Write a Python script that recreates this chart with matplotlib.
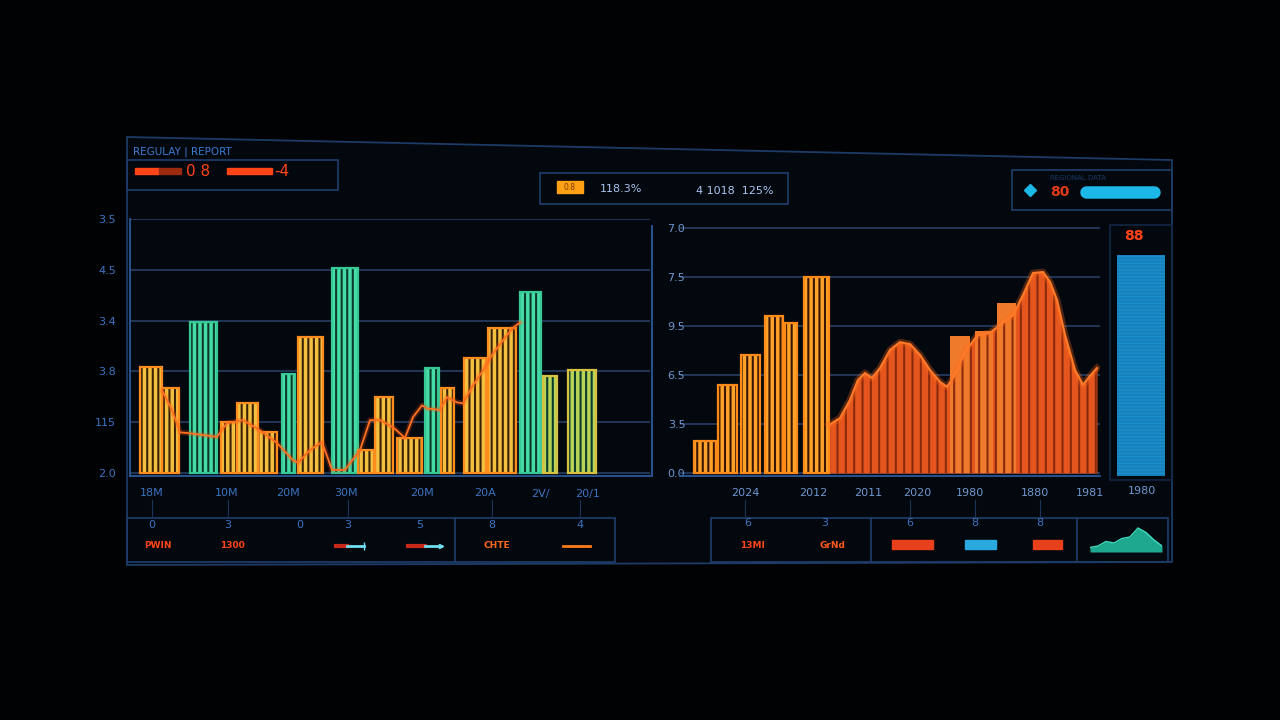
import numpy as np
import matplotlib
matplotlib.use("Agg")
import matplotlib.pyplot as plt
from matplotlib.patches import Rectangle, Polygon

W, H = 1280, 720

# ---- left chart data -------------------------------------------------
left_start = [1.0, 3.2, 6.0, 9.1, 10.7, 12.8, 15.2, 16.8, 20.2, 22.8,
              24.5, 26.7, 29.5, 31.1, 33.4, 35.8, 39.0, 41.3, 43.8]
left_end = [3.2, 4.9, 8.7, 10.7, 12.8, 14.7, 16.5, 19.3, 22.8, 24.4,
            26.3, 29.2, 30.9, 32.4, 35.6, 38.6, 41.1, 42.7, 46.6]
left_vals = [2.08, 1.67, 2.98, 1.0, 1.37, 0.8, 1.94, 2.67, 4.04, 0.45,
             1.5, 0.69, 2.06, 1.67, 2.27, 2.86, 3.57, 1.9, 2.02]
left_kind = ["y", "y", "t", "y", "y", "y", "t", "y", "t", "y",
             "y", "y", "t", "y", "y", "y", "t", "g", "g"]

trend_x = [3.2, 4.2, 5.0, 6.0, 8.7, 9.7, 11.3, 13.0, 14.7, 16.3, 16.8, 18.0,
           19.2, 20.2, 21.5, 23.0, 24.0, 25.0, 26.3, 27.5, 28.3, 29.2, 29.7,
           31.0, 31.7, 32.7, 33.3, 34.2, 35.3, 36.3, 37.3, 38.3, 39.0]
trend_y = [1.63, 1.24, 0.80, 0.78, 0.71, 0.98, 1.04, 0.84, 0.59, 0.25, 0.20,
           0.45, 0.61, 0.06, 0.06, 0.45, 1.04, 1.04, 0.90, 0.69, 1.10, 1.33,
           1.27, 1.24, 1.49, 1.39, 1.37, 1.69, 2.02, 2.35, 2.61, 2.86, 2.96]

left_yticks = ["2.0", "115", "3.8", "3.4", "4.5", "3.5"]
left_xpos = [2.2, 9.7, 15.8, 21.6, 29.2, 35.5, 41.0, 45.8]
left_xlabels = ["18M", "10M", "20M", "30M", "20M", "20A", "2V/", "20/1"]

# ---- right chart data ------------------------------------------------
right_start = [4.2, 6.6, 8.9, 11.3, 13.3, 15.2]
right_end = [6.4, 8.5, 10.8, 13.1, 14.5, 17.7]
right_vals = [0.65, 1.8, 2.41, 3.2, 3.06, 4.0]

inner_start = [29.8, 32.3, 34.5]
inner_end = [31.8, 34.1, 36.4]
inner_vals = [2.8, 2.9, 3.47]

curve_x = [17.7, 18.8, 19.8, 20.6, 21.3, 22.0, 22.8, 23.8, 24.8, 25.8, 26.8,
           27.8, 28.8, 29.5, 30.3, 31.3, 32.5, 33.8, 34.8, 36.1, 37.1, 38.1,
           39.1, 39.8, 40.5, 41.3, 42.3, 43.1, 43.8, 44.5]
curve_y = [0.98, 1.12, 1.49, 1.90, 2.04, 1.94, 2.14, 2.51, 2.67, 2.63, 2.41,
           2.10, 1.86, 1.76, 2.00, 2.47, 2.80, 2.86, 3.02, 3.22, 3.63, 4.08,
           4.10, 3.90, 3.53, 2.82, 2.10, 1.80, 1.98, 2.14]

right_yticks = ["0.0", "3.5", "6.5", "9.5", "7.5", "7.0"]
right_xlabels = ["2024", "2012", "2011", "2020", "1980", "1880", "1981", "1980"]
right_xpos = [9.3, 16.1, 21.6, 26.5, 31.8, 38.3, 43.8, 49.0]

gauge_value = 0.89

mini_y = [0.15, 0.2, 0.35, 0.3, 0.45, 0.5, 0.8, 0.65, 0.4, 0.2]

# ---- colours ---------------------------------------------------------
BG = "#010204"
FRAME = "#1d3b66"
GRID = "#29436a"
TICK = "#3c74c2"
YEL = "#f4c040"
ORG = "#ff8c1c"
TEAL = "#46dca8"
GREEN = "#b8d458"
RED = "#ff4418"
CYAN = "#1cb8e8"

plt.rcParams["font.family"] = ["DejaVu Sans"]
plt.rcParams["hatch.linewidth"] = 1.5

fig = plt.figure(figsize=(W / 100, H / 100), dpi=100, facecolor=BG)


def box(px, py, pw, ph):
    return [px / W, 1 - (py + ph) / H, pw / W, ph / H]


# ---- background canvas in pixel coordinates --------------------------
cv = fig.add_axes([0, 0, 1, 1], zorder=0)
cv.set_xlim(0, W)
cv.set_ylim(H, 0)
cv.axis("off")

cv.add_patch(Polygon([(127, 137), (1172, 160), (1172, 562), (127, 565)],
                     closed=True, facecolor="#03070e", edgecolor=FRAME, lw=1.3))

# header boxes
cv.add_patch(Rectangle((127, 160), 211, 30, fill=False, ec=FRAME, lw=1.3))
cv.text(133, 152, "REGULAY | REPORT", color="#3a7bd0", fontsize=7.5, va="center")
cv.add_patch(Rectangle((135, 168), 24, 6, color=RED))
cv.add_patch(Rectangle((159, 168), 22, 6, color="#9a2a10"))
cv.text(186, 172, "0 8", color=RED, fontsize=11, va="center")
cv.add_patch(Rectangle((227, 168), 45, 6, color=RED))
cv.text(274, 172, "-4", color=RED, fontsize=11, va="center")

cv.add_patch(Rectangle((540, 173), 248, 31, fill=False, ec=FRAME, lw=1.3))
cv.add_patch(Rectangle((557, 181), 26, 12, color="#ffa014"))
cv.text(570, 187, "0.8", color="#7a3a00", fontsize=5.5, ha="center", va="center")
cv.text(600, 189, "118.3%", color="#a8c6ee", fontsize=8, va="center")
cv.text(696, 191, "4 1018  125%", color="#a8c6ee", fontsize=8, va="center")

cv.add_patch(Rectangle((1012, 170), 160, 40, fill=False, ec=FRAME, lw=1.3))
cv.plot([1030], [190], marker="D", ms=6, color=CYAN)
cv.text(1050, 178, "REGIONAL DATA", color="#1c3a66", fontsize=5, va="center")
cv.text(1050, 192, "80", color="#e03a18", fontsize=10, va="center", weight="bold")
cv.plot([1086, 1154], [192, 192], color=CYAN, lw=9, solid_capstyle="round")

# gauge frame
cv.add_patch(Rectangle((1110, 225), 62, 255, fill=False, ec="#102844", lw=1.2))
cv.text(1134, 236, "88", color=RED, fontsize=10, ha="center", va="center",
        weight="bold")

# bottom boxes
cv.add_patch(Rectangle((127, 518), 488, 44, fill=False, ec=FRAME, lw=1.3))
cv.plot([455, 455], [518, 562], color=FRAME, lw=1.3)
for x, d in zip([152, 228, 300, 348, 420, 492, 580],
                ["0", "3", "0", "3", "5", "8", "4"]):
    cv.text(x, 525, d, color=TICK, fontsize=8, ha="center", va="center")
for x in [152, 228, 348, 492, 580]:
    cv.plot([x, x], [500, 518], color="#1a3458", lw=0.8)
cv.text(158, 546, "PWIN", color=RED, fontsize=6.5, ha="center", va="center",
        weight="bold")
cv.text(232, 546, "1300", color=RED, fontsize=6.5, ha="center", va="center",
        weight="bold")
cv.plot([336, 347], [546, 546], color="#c8281a", lw=3)
cv.plot([347, 364], [546, 546], color="#6ee0f0", lw=2, marker="|", markevery=[1])
cv.plot([408, 425], [546, 546], color="#c8281a", lw=3)
cv.plot([425, 441], [546, 546], color="#6ee0f0", lw=2, marker=">", ms=3,
        markevery=[1])
cv.text(497, 546, "CHTE", color="#ff6a1a", fontsize=6.5, ha="center",
        va="center", weight="bold")
cv.plot([563, 590], [546, 546], color="#ff7a1a", lw=2)

cv.add_patch(Rectangle((711, 518), 457, 44, fill=False, ec=FRAME, lw=1.3))
cv.plot([871, 871], [518, 562], color=FRAME, lw=1.3)
cv.plot([1077, 1077], [518, 562], color=FRAME, lw=1.3)
for x, d in zip([748, 825, 910, 975, 1040], ["6", "3", "6", "8", "8"]):
    cv.text(x, 523, d, color=TICK, fontsize=8, ha="center", va="center")
for x in [745, 910, 975, 1040]:
    cv.plot([x, x], [500, 518], color="#1a3458", lw=0.8)
cv.text(752, 545, "13MI", color=RED, fontsize=6.5, ha="center", va="center",
        weight="bold")
cv.text(832, 545, "GrNd", color="#ff5a1a", fontsize=6.5, ha="center",
        va="center", weight="bold")
cv.add_patch(Rectangle((892, 540), 41, 9, color="#e8401a"))
cv.add_patch(Rectangle((965, 540), 31, 9, color="#2aa8e0"))
cv.add_patch(Rectangle((1033, 540), 29, 9, color="#e8401a"))

# ---- left chart ------------------------------------------------------
axl = fig.add_axes(box(130, 219, 520, 257), zorder=2)
axl.set_facecolor("none")
axl.set_xlim(0, 52)
axl.set_ylim(-0.06, 5.0)
axl.set_yticks(range(6))
axl.set_yticklabels(left_yticks)
axl.set_xticks(left_xpos)
axl.set_xticklabels(left_xlabels)
axl.tick_params(axis="both", colors=TICK, labelsize=8, length=0)
axl.tick_params(axis="y", pad=10)
axl.tick_params(axis="x", pad=9)
axl.grid(axis="y", color=GRID, lw=1.1)
axl.set_axisbelow(True)
for s in ["top", "right"]:
    axl.spines[s].set_visible(False)
for s in ["left", "bottom"]:
    axl.spines[s].set_color("#2a5a9a")
    axl.spines[s].set_linewidth(1.3)

fills = {"y": YEL, "t": TEAL, "g": GREEN}
edges = {"y": ORG, "t": "#36c995", "g": "#d8c040"}
ls = np.array(left_start)
le = np.array(left_end)
lw_ = le - ls
for x0, w, v, k in zip(ls, lw_, left_vals, left_kind):
    axl.bar(x0, v, width=w, align="edge", color=fills[k], lw=0, zorder=2)
    axl.bar(x0, v, width=w, align="edge", color="none", hatch="|||",
            edgecolor="#3a2206" if k == "y" else "#0b3a2a", lw=0, zorder=3)
    axl.bar(x0, v, width=w, align="edge", color="none", edgecolor=edges[k],
            lw=1.6, zorder=4)
axl.plot(trend_x, trend_y, color="#ff5a10", lw=4, alpha=0.25, zorder=5)
axl.plot(trend_x, trend_y, color="#ff7020", lw=1.3, zorder=5)

# ---- right chart -----------------------------------------------------
axr = fig.add_axes(box(652, 226, 448, 250), zorder=2)
axr.set_facecolor("none")
axr.set_xlim(0, 44.8)
axr.set_ylim(-0.06, 5.04)
axr.set_yticks(range(6))
axr.set_yticklabels(right_yticks)
axr.set_xticks(right_xpos[:7])
axr.set_xticklabels(right_xlabels[:7])
axr.tick_params(axis="both", colors="#6f98d0", labelsize=8, length=0)
axr.tick_params(axis="y", pad=-24)
axr.tick_params(axis="x", pad=9)
axr.hlines(range(6), 2.8, 44.8, color=GRID, lw=1.1, zorder=0)
for s in ["top", "right", "bottom"]:
    axr.spines[s].set_visible(False)
axr.spines["left"].set_color("#2a5a9a")
axr.spines["left"].set_linewidth(1.3)
axr.plot([2.8, 44.8], [-0.06, -0.06], color="#2a5a9a", lw=1.3, clip_on=False)
cv.text(1142, 491, right_xlabels[7], color="#6f98d0", fontsize=8,
        ha="center", va="center")

rs = np.array(right_start)
rw = np.array(right_end) - rs
axr.bar(rs, right_vals, width=rw, align="edge", color="#ffa22a", lw=0, zorder=2)
axr.bar(rs, right_vals, width=rw, align="edge", color="none", hatch="|||",
        edgecolor="#3a1602", lw=0, zorder=3)
axr.bar(rs, right_vals, width=rw, align="edge", color="none",
        edgecolor="#ff8a18", lw=1.6, zorder=4)

axr.fill_between(curve_x, 0, curve_y, color="#e4561e", lw=0, zorder=2)
ins = np.array(inner_start)
iw = np.array(inner_end) - ins
axr.bar(ins, inner_vals, width=iw, align="edge", color="#f07a2c", lw=0,
        zorder=2.5)
axr.fill_between(curve_x, 0, curve_y, color="none", hatch="||",
                 edgecolor="#8a2a0c", lw=0, zorder=3)
axr.plot(curve_x, curve_y, color="#ff6a1a", lw=5, alpha=0.3, zorder=5)
axr.plot(curve_x, curve_y, color="#ff7a28", lw=1.6, zorder=5)

# ---- gauge -----------------------------------------------------------
axg = fig.add_axes(box(1117, 228, 48, 248), zorder=2)
axg.set_xlim(0, 1)
axg.set_ylim(0, 1)
axg.axis("off")
axg.bar([0.5], [gauge_value], width=1.0, color="#1a8fcc", lw=0)
axg.bar([0.5], [gauge_value], width=1.0, color="none", hatch="-----",
        edgecolor="#1780ba", lw=0)

# ---- mini area -------------------------------------------------------
axm = fig.add_axes(box(1090, 522, 72, 30), zorder=2)
axm.set_xlim(0, len(mini_y) - 1)
axm.set_ylim(0, 1)
axm.axis("off")
axm.fill_between(range(len(mini_y)), 0, mini_y, color="#1fa890", lw=0)
axm.plot(range(len(mini_y)), mini_y, color="#3fe0c0", lw=1)

fig.savefig("out.png", dpi=100, facecolor=BG)
